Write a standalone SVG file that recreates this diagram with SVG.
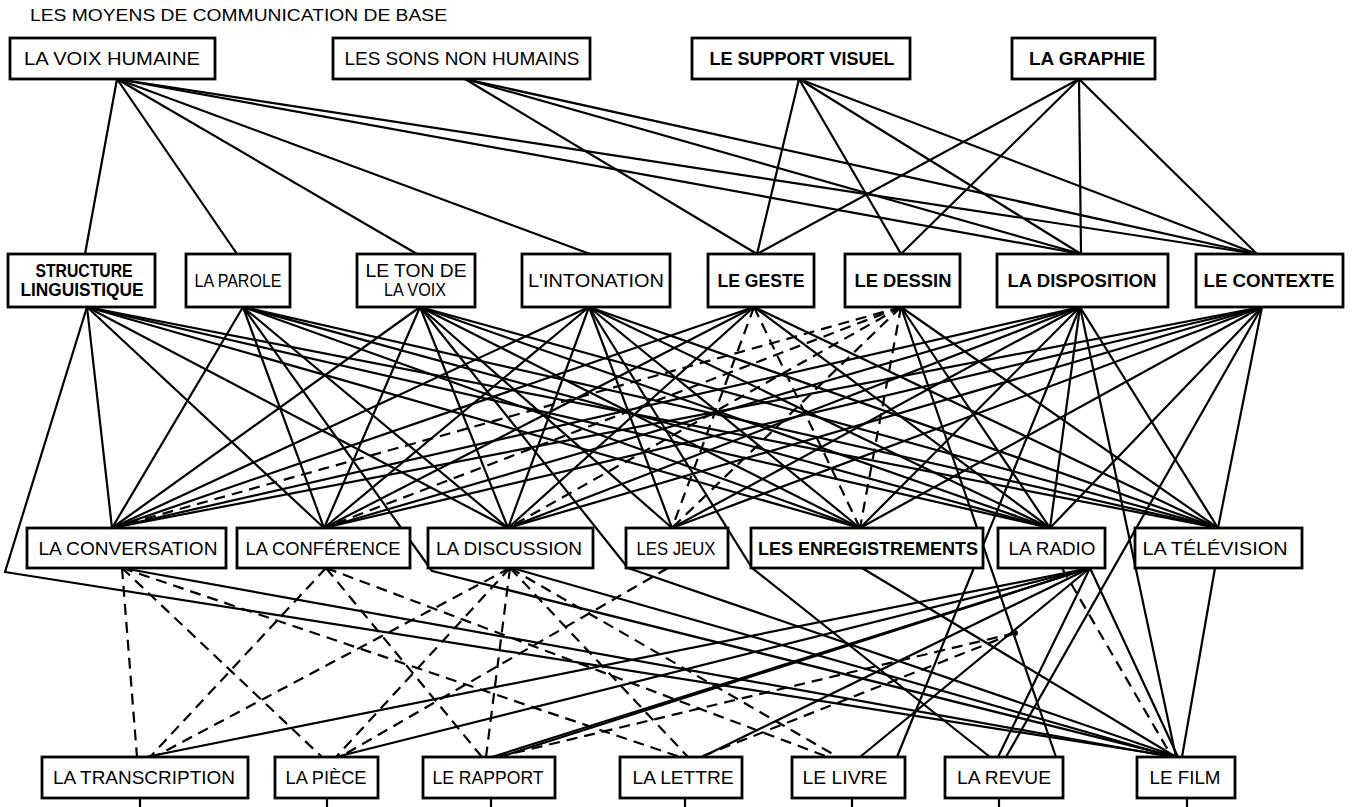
<svg xmlns="http://www.w3.org/2000/svg" width="1354" height="807" viewBox="0 0 1354 807">
<style>
.bg{fill:#fff}
.box{fill:#fff;stroke:#000;stroke-width:2.8}
.s{stroke:#000;stroke-width:2.2;fill:none;stroke-linecap:round;stroke-linejoin:round}
.d{stroke:#000;stroke-width:2.2;fill:none;stroke-dasharray:11 7}
.t{font-family:"Liberation Sans",Arial,sans-serif;font-size:19px;text-anchor:middle;fill:#000}
.b{font-weight:bold}
.title{font-family:"Liberation Sans",Arial,sans-serif;font-size:17px;fill:#000}
</style>
<rect class="bg" x="0" y="0" width="1354" height="807"/>
<text class="title" x="30" y="21" textLength="417" lengthAdjust="spacingAndGlyphs">LES MOYENS DE COMMUNICATION DE BASE</text>
<g id="connectors">
<!-- row 1 to row 2 -->
<line class="s" x1="117" y1="79" x2="85" y2="254"/>
<line class="s" x1="117" y1="79" x2="237" y2="254"/>
<line class="s" x1="117" y1="79" x2="417" y2="254"/>
<line class="s" x1="117" y1="79" x2="590" y2="254"/>
<line class="s" x1="117" y1="79" x2="1081" y2="254"/>
<line class="s" x1="117" y1="79" x2="1257" y2="254"/>
<line class="s" x1="465" y1="79" x2="757" y2="254"/>
<line class="s" x1="465" y1="79" x2="1081" y2="254"/>
<line class="s" x1="465" y1="79" x2="1257" y2="254"/>
<line class="s" x1="799" y1="79" x2="757" y2="254"/>
<line class="s" x1="799" y1="79" x2="901" y2="254"/>
<line class="s" x1="799" y1="79" x2="1081" y2="254"/>
<line class="s" x1="799" y1="79" x2="1257" y2="254"/>
<line class="s" x1="1079" y1="79" x2="757" y2="254"/>
<line class="s" x1="1079" y1="79" x2="901" y2="254"/>
<line class="s" x1="1079" y1="79" x2="1081" y2="254"/>
<line class="s" x1="1079" y1="79" x2="1257" y2="254"/>
<!-- row 2 to row 3: STRUCTURE -->
<line class="s" x1="87" y1="307" x2="112" y2="528"/>
<line class="s" x1="87" y1="307" x2="324" y2="528"/>
<line class="s" x1="87" y1="307" x2="508" y2="528"/>
<line class="s" x1="87" y1="307" x2="860" y2="528"/>
<line class="s" x1="87" y1="307" x2="1050" y2="528"/>
<line class="s" x1="87" y1="307" x2="1218" y2="528"/>
<!-- PAROLE -->
<line class="s" x1="243" y1="307" x2="112" y2="528"/>
<line class="s" x1="243" y1="307" x2="324" y2="528"/>
<line class="s" x1="243" y1="307" x2="508" y2="528"/>
<line class="s" x1="243" y1="307" x2="860" y2="528"/>
<line class="s" x1="243" y1="307" x2="1050" y2="528"/>
<line class="s" x1="243" y1="307" x2="1218" y2="528"/>
<!-- TON -->
<line class="s" x1="420" y1="307" x2="112" y2="528"/>
<line class="s" x1="420" y1="307" x2="324" y2="528"/>
<line class="s" x1="420" y1="307" x2="508" y2="528"/>
<line class="s" x1="420" y1="307" x2="672" y2="528"/>
<line class="s" x1="420" y1="307" x2="860" y2="528"/>
<line class="s" x1="420" y1="307" x2="1050" y2="528"/>
<line class="s" x1="420" y1="307" x2="1218" y2="528"/>
<!-- INTONATION -->
<line class="s" x1="589" y1="307" x2="112" y2="528"/>
<line class="s" x1="589" y1="307" x2="324" y2="528"/>
<line class="s" x1="589" y1="307" x2="508" y2="528"/>
<line class="s" x1="589" y1="307" x2="672" y2="528"/>
<line class="s" x1="589" y1="307" x2="860" y2="528"/>
<line class="s" x1="589" y1="307" x2="1050" y2="528"/>
<line class="s" x1="589" y1="307" x2="1218" y2="528"/>
<!-- GESTE -->
<line class="s" x1="754" y1="307" x2="112" y2="528"/>
<line class="s" x1="754" y1="307" x2="324" y2="528"/>
<line class="s" x1="754" y1="307" x2="508" y2="528"/>
<line class="s" x1="754" y1="307" x2="1050" y2="528"/>
<line class="s" x1="754" y1="307" x2="1218" y2="528"/>
<line class="d" x1="754" y1="307" x2="672" y2="528"/>
<line class="d" x1="754" y1="307" x2="860" y2="528"/>
<!-- DESSIN -->
<line class="d" x1="901" y1="307" x2="112" y2="528"/>
<line class="d" x1="901" y1="307" x2="324" y2="528"/>
<line class="d" x1="901" y1="307" x2="508" y2="528"/>
<line class="d" x1="901" y1="307" x2="672" y2="528"/>
<line class="d" x1="901" y1="307" x2="860" y2="528"/>
<line class="s" x1="901" y1="307" x2="1050" y2="528"/>
<line class="s" x1="901" y1="307" x2="1218" y2="528"/>
<!-- DISPOSITION -->
<line class="s" x1="1080" y1="307" x2="112" y2="528"/>
<line class="s" x1="1080" y1="307" x2="324" y2="528"/>
<line class="s" x1="1080" y1="307" x2="508" y2="528"/>
<line class="s" x1="1080" y1="307" x2="672" y2="528"/>
<line class="s" x1="1080" y1="307" x2="860" y2="528"/>
<line class="s" x1="1080" y1="307" x2="1050" y2="528"/>
<line class="s" x1="1080" y1="307" x2="1218" y2="528"/>
<!-- CONTEXTE -->
<line class="s" x1="1262" y1="307" x2="112" y2="528"/>
<line class="s" x1="1262" y1="307" x2="324" y2="528"/>
<line class="s" x1="1262" y1="307" x2="508" y2="528"/>
<line class="s" x1="1262" y1="307" x2="672" y2="528"/>
<line class="s" x1="1262" y1="307" x2="860" y2="528"/>
<line class="s" x1="1262" y1="307" x2="1050" y2="528"/>
<line class="s" x1="1262" y1="307" x2="1218" y2="528"/>
<!-- row 2 bent lines down to row 4 -->
<polyline class="s" points="87,307 5,572 1176,757"/>
<polyline class="s" points="243,307 432,571 1176,757"/>
<polyline class="s" points="420,307 628,568 1178,757"/>
<polyline class="s" points="589,307 752,568 990,757"/>
<line class="s" x1="1080" y1="307" x2="897" y2="757"/>
<line class="s" x1="1080" y1="307" x2="1176" y2="757"/>
<line class="s" x1="901" y1="307" x2="1056" y2="757"/>
<line class="s" x1="1262" y1="307" x2="1006" y2="757"/>
<circle cx="1015" cy="633" r="3" fill="#000"/>
<!-- row 3 to row 4 dashed -->
<line class="d" x1="122" y1="568" x2="137" y2="757"/>
<line class="d" x1="122" y1="568" x2="322" y2="757"/>
<line class="d" x1="122" y1="568" x2="680" y2="757"/>
<line class="d" x1="326" y1="568" x2="150" y2="757"/>
<line class="d" x1="326" y1="568" x2="482" y2="757"/>
<line class="d" x1="326" y1="568" x2="828" y2="757"/>
<line class="d" x1="510" y1="568" x2="154" y2="757"/>
<line class="d" x1="510" y1="568" x2="336" y2="757"/>
<line class="d" x1="510" y1="568" x2="486" y2="757"/>
<line class="d" x1="510" y1="568" x2="688" y2="757"/>
<line class="d" x1="510" y1="568" x2="838" y2="757"/>
<line class="d" x1="668" y1="568" x2="340" y2="757"/>
<line class="d" x1="1015" y1="633" x2="497" y2="757"/>
<line class="d" x1="1015" y1="633" x2="700" y2="757"/>
<line class="d" x1="1062" y1="568" x2="1172" y2="757"/>
<!-- row 3 to row 4 solid -->
<line class="s" x1="122" y1="568" x2="1172" y2="757"/>
<line class="s" x1="512" y1="568" x2="1174" y2="757"/>
<line class="s" x1="862" y1="568" x2="1176" y2="757"/>
<line class="s" x1="1090" y1="568" x2="146" y2="757"/>
<line class="s" x1="1090" y1="568" x2="336" y2="757"/>
<line class="s" x1="1090" y1="568" x2="492" y2="757"/>
<line class="s" x1="1090" y1="568" x2="500" y2="757"/>
<line class="s" x1="1090" y1="568" x2="702" y2="757"/>
<line class="s" x1="1090" y1="568" x2="860" y2="757"/>
<line class="s" x1="1090" y1="568" x2="998" y2="757"/>
<line class="s" x1="1090" y1="568" x2="1178" y2="757"/>
<line class="s" x1="1215" y1="568" x2="1182" y2="757"/>
<!-- ticks below bottom row -->
<line class="s" x1="140" y1="798" x2="140" y2="807"/>
<line class="s" x1="327" y1="798" x2="327" y2="807"/>
<line class="s" x1="491" y1="798" x2="491" y2="807"/>
<line class="s" x1="685" y1="798" x2="685" y2="807"/>
<line class="s" x1="852" y1="798" x2="852" y2="807"/>
<line class="s" x1="999" y1="798" x2="999" y2="807"/>
<line class="s" x1="1187" y1="798" x2="1187" y2="807"/>
</g>
<!-- row 1 -->
<g id="n-voix"><rect class="box" x="10" y="38" width="205" height="41"/><text class="t" x="112" y="65" textLength="176" lengthAdjust="spacingAndGlyphs">LA VOIX HUMAINE</text></g>
<g id="n-sons"><rect class="box" x="333" y="38" width="257" height="41"/><text class="t" x="462" y="65" textLength="235" lengthAdjust="spacingAndGlyphs">LES SONS NON HUMAINS</text></g>
<g id="n-support"><rect class="box" x="692" y="38" width="218" height="41"/><text class="t b" x="802" y="65" textLength="185" lengthAdjust="spacingAndGlyphs">LE SUPPORT VISUEL</text></g>
<g id="n-graphie"><rect class="box" x="1012" y="38" width="143" height="41"/><text class="t b" x="1087" y="65" textLength="116" lengthAdjust="spacingAndGlyphs">LA GRAPHIE</text></g>
<!-- row 2 -->
<g id="n-structure"><rect class="box" x="8" y="254" width="147" height="53"/><text class="t b" x="84" y="277" textLength="97" lengthAdjust="spacingAndGlyphs">STRUCTURE</text><text class="t b" x="82" y="296" textLength="123" lengthAdjust="spacingAndGlyphs">LINGUISTIQUE</text></g>
<g id="n-parole"><rect class="box" x="186" y="254" width="104" height="53"/><text class="t" x="238" y="287" textLength="87" lengthAdjust="spacingAndGlyphs">LA PAROLE</text></g>
<g id="n-ton"><rect class="box" x="357" y="254" width="118" height="53"/><text class="t" x="416" y="277" textLength="101" lengthAdjust="spacingAndGlyphs">LE TON DE</text><text class="t" x="415" y="296" textLength="62" lengthAdjust="spacingAndGlyphs">LA VOIX</text></g>
<g id="n-intonation"><rect class="box" x="522" y="254" width="148" height="53"/><text class="t" x="596" y="287" textLength="136" lengthAdjust="spacingAndGlyphs">L'INTONATION</text></g>
<g id="n-geste"><rect class="box" x="708" y="254" width="106" height="53"/><text class="t b" x="761" y="287" textLength="87" lengthAdjust="spacingAndGlyphs">LE GESTE</text></g>
<g id="n-dessin"><rect class="box" x="845" y="254" width="115" height="53"/><text class="t b" x="903" y="287" textLength="97" lengthAdjust="spacingAndGlyphs">LE DESSIN</text></g>
<g id="n-disposition"><rect class="box" x="997" y="254" width="171" height="53"/><text class="t b" x="1082" y="287" textLength="149" lengthAdjust="spacingAndGlyphs">LA DISPOSITION</text></g>
<g id="n-contexte"><rect class="box" x="1196" y="254" width="147" height="53"/><text class="t b" x="1269" y="287" textLength="131" lengthAdjust="spacingAndGlyphs">LE CONTEXTE</text></g>
<!-- row 3 -->
<g id="n-conversation"><rect class="box" x="27" y="528" width="199" height="40"/><text class="t" x="128" y="555" textLength="179" lengthAdjust="spacingAndGlyphs">LA CONVERSATION</text></g>
<g id="n-conference"><rect class="box" x="237" y="528" width="173" height="40"/><text class="t" x="323" y="555" textLength="155" lengthAdjust="spacingAndGlyphs">LA CONFÉRENCE</text></g>
<g id="n-discussion"><rect class="box" x="428" y="528" width="165" height="40"/><text class="t" x="509" y="555" textLength="146" lengthAdjust="spacingAndGlyphs">LA DISCUSSION</text></g>
<g id="n-jeux"><rect class="box" x="626" y="528" width="102" height="40"/><text class="t" x="676" y="555" textLength="79" lengthAdjust="spacingAndGlyphs">LES JEUX</text></g>
<g id="n-enregistrements"><rect class="box" x="751" y="528" width="232" height="40"/><text class="t b" x="868" y="555" textLength="220" lengthAdjust="spacingAndGlyphs">LES ENREGISTREMENTS</text></g>
<g id="n-radio"><rect class="box" x="998" y="528" width="107" height="40"/><text class="t" x="1052" y="555" textLength="87" lengthAdjust="spacingAndGlyphs">LA RADIO</text></g>
<g id="n-television"><rect class="box" x="1135" y="528" width="167" height="40"/><text class="t" x="1215" y="555" textLength="145" lengthAdjust="spacingAndGlyphs">LA TÉLÉVISION</text></g>
<!-- row 4 -->
<g id="n-transcription"><rect class="box" x="42" y="757" width="206" height="41"/><text class="t" x="144" y="784" textLength="182" lengthAdjust="spacingAndGlyphs">LA TRANSCRIPTION</text></g>
<g id="n-piece"><rect class="box" x="275" y="757" width="103" height="41"/><text class="t" x="326" y="784" textLength="81" lengthAdjust="spacingAndGlyphs">LA PIÈCE</text></g>
<g id="n-rapport"><rect class="box" x="423" y="757" width="132" height="41"/><text class="t" x="488" y="784" textLength="111" lengthAdjust="spacingAndGlyphs">LE RAPPORT</text></g>
<g id="n-lettre"><rect class="box" x="620" y="757" width="122" height="41"/><text class="t" x="683" y="784" textLength="101" lengthAdjust="spacingAndGlyphs">LA LETTRE</text></g>
<g id="n-livre"><rect class="box" x="792" y="757" width="113" height="41"/><text class="t" x="845" y="784" textLength="85" lengthAdjust="spacingAndGlyphs">LE LIVRE</text></g>
<g id="n-revue"><rect class="box" x="945" y="757" width="118" height="41"/><text class="t" x="1004" y="784" textLength="94" lengthAdjust="spacingAndGlyphs">LA REVUE</text></g>
<g id="n-film"><rect class="box" x="1137" y="757" width="98" height="41"/><text class="t" x="1185" y="784" textLength="71" lengthAdjust="spacingAndGlyphs">LE FILM</text></g>
</svg>
